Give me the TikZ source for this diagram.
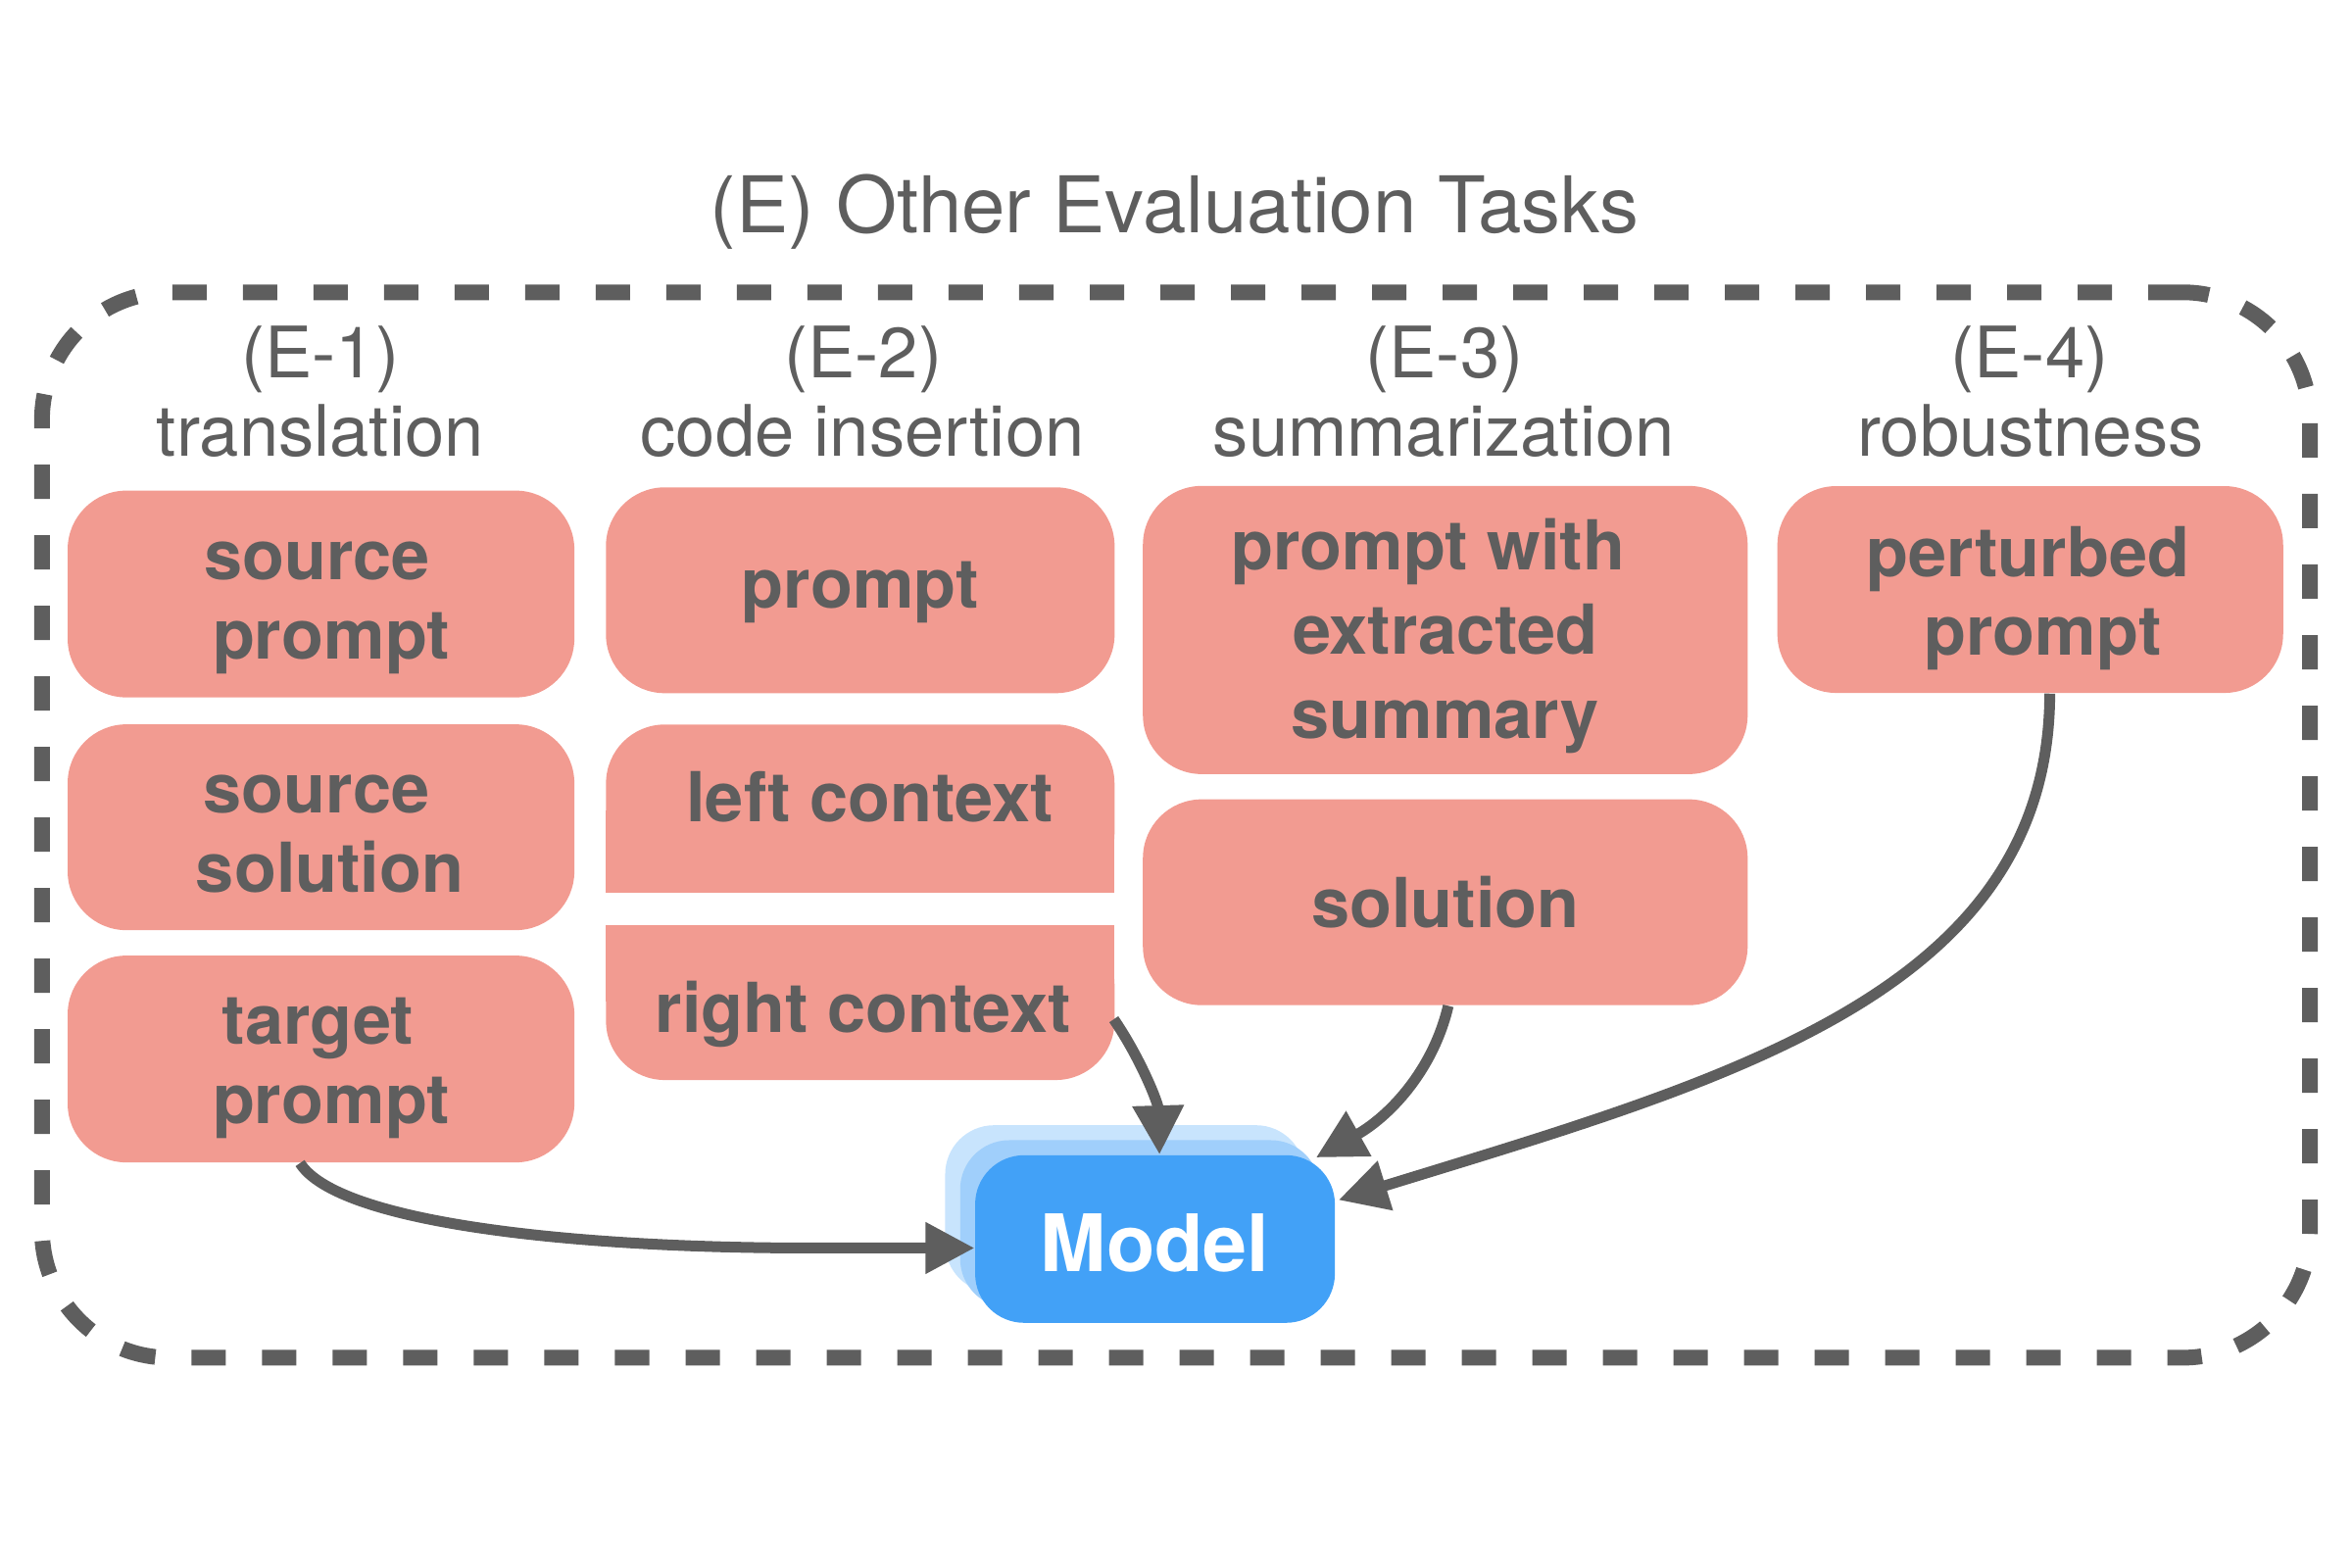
\documentclass[tikz,border=0pt]{standalone}
\usepackage{fontspec}
\setmainfont{TeX Gyre Heros}
\usetikzlibrary{arrows.meta,calc}
\definecolor{salmon}{RGB}{242,155,145}
\definecolor{txtgray}{RGB}{94,94,94}
\definecolor{modelblue}{RGB}{66,161,247}
\definecolor{layermid}{RGB}{160,207,251}
\definecolor{layerlight}{RGB}{200,228,253}
\begin{document}
\begin{tikzpicture}[x=0.015306cm,y=-0.015306cm,
  box/.style={fill=salmon, rounded corners=0.6cm, inner sep=0pt},
  slot/.style={inner sep=0pt},
  btxt/.style={text=txtgray, font=\fontsize{20}{23}\selectfont\bfseries, align=center, inner sep=0pt},
  hdr/.style={text=txtgray, font=\fontsize{20.6}{24}\selectfont, inner sep=0pt, anchor=base},
  conn/.style={draw=txtgray, line width=0.11cm, -{Triangle[length=0.5cm,width=0.5cm]}},
  frame/.style={draw=txtgray, line width=0.16cm, dash pattern=on 0.35cm off 0.37cm, rounded corners=1.3cm, inner sep=0pt},
  mbox/.style={rounded corners=0.5cm, inner sep=0pt, minimum width=3.67cm, minimum height=1.71cm},
]
\useasboundingbox (0,0) rectangle (1568,1045);

% title
\node[text=txtgray, font=\fontsize{22.7}{26}\selectfont, anchor=base, inner sep=0pt] (title) at (783,155) {(E) Other Evaluation Tasks};

% dashed frame
\node[frame, minimum width=23.14cm, minimum height=10.87cm] (frame) at (784,550) {};

% headers
\node[hdr] (h1a) at (213.5,252) {(E-1)};
\node[hdr] (h1b) at (213.5,304) {translation};
\node[hdr] (h2a) at (575.5,252) {(E-2)};
\node[hdr] (h2b) at (575,304) {code insertion};
\node[hdr] (h3a) at (963,252) {(E-3)};
\node[hdr] (h3b) at (962.5,304) {summarization};
\node[hdr] (h4a) at (1353,252) {(E-4)};
\node[hdr] (h4b) at (1353.5,304) {robustness};

% column 1
\node[box, minimum width=5.17cm, minimum height=2.11cm] (sp) at (214,396) {};
\node[box, minimum width=5.17cm, minimum height=2.10cm] (ss) at (214,551.5) {};
\node[box, minimum width=5.17cm, minimum height=2.11cm] (tp) at (214,706) {};
\node[btxt] (tsp) at ($(sp.center)+(0,6.5)$) {\strut source\hspace*{0.11em}\\\hspace*{0.3em}prompt\strut};
\node[btxt] (tss) at ($(ss.center)+(0,6.5)$) {\strut source\hspace*{0.13em}\\\hspace*{0.26em}solution\strut};
\node[btxt] (ttp) at ($(tp.center)+(0,6)$) {\strut target\hspace*{0.09em}\\\hspace*{0.3em}prompt\strut};

% column 2
\node[box, minimum width=5.19cm, minimum height=2.10cm] (pr) at (573.5,393.5) {};
\node[btxt] (tpr) at ($(pr.center)+(0,1)$) {\strut prompt};
\fill[salmon, rounded corners=0.6cm] (404,483) rectangle (743,595);
\fill[salmon] (404,540) rectangle (743,595);
\fill[salmon, rounded corners=0.6cm] (404,617) rectangle (743,720);
\fill[salmon] (404,617) rectangle (743,668);
\node[slot, minimum width=5.19cm, minimum height=1.714cm] (lc) at (573.5,539) {};
\node[slot, minimum width=5.19cm, minimum height=1.577cm] (rc) at (573.5,668.5) {};
\node[btxt] (tlc) at (580,537.5) {\strut left context};
\node[btxt] (trc) at (575.5,677.5) {\strut right context};

% column 3
\node[box, minimum width=6.17cm, minimum height=2.94cm] (ps) at (963.5,420) {};
\node[btxt, font=\fontsize{20}{24.4}\selectfont\bfseries] (tps) at ($(ps.center)+(0,5)$) {\strut prompt with\hspace*{0.5em}\\extracted\\summary\strut};
\node[box, minimum width=6.17cm, minimum height=2.10cm] (sol) at (963.5,601.5) {};
\node[btxt] (tsol) at ($(sol.center)+(0,6)$) {\strut solution};

% column 4
\node[box, minimum width=5.16cm, minimum height=2.11cm] (pp) at (1353.5,393) {};
\node[btxt] (tpp) at ($(pp.center)+(2,7)$) {\strut perturbed\hspace*{0.15em}\\\hspace*{0.28em}prompt\strut};

% model with stacked layers
\node[mbox, fill=layerlight] (ml1) at (750,806) {};
\node[mbox, fill=layermid] (ml2) at (760,816) {};
\node[mbox, fill=modelblue] (model) at (770,826) {};
\node[text=white, font=\fontsize{23}{27.6}\selectfont\bfseries, inner sep=0pt] (tmodel) at ($(model.center)+(0,9)$) {\strut Model};

% connectors
\draw[conn] ($(tp.south)+(-14,0)$) .. controls (225,815) and (380,832) .. (540,832) -- ($(model.west)+(0,6)$);
\draw[conn] ($(rc.east)+(-1,11)$) .. controls (760,705) and (772,735) .. ($(model.north)+(3,0)$);
\draw[conn] ($(sol.south)+(2,0)$) .. controls (955,715) and (925,745) .. ($(model.north east)+(-13,2)$);
\draw[conn] ($(pp.south)+(13,0)$) .. controls (1366,662) and (1152,720) .. ($(model.east)+(2,-26)$);
\end{tikzpicture}
\end{document}
